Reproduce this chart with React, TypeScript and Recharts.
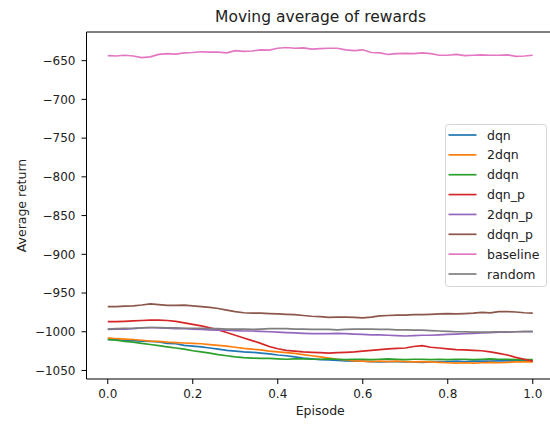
import React from 'react';
import { LineChart, Line, XAxis, YAxis, Legend, ReferenceLine } from 'recharts';

// Episode progress (fraction of training)
const episodes = [
  0, 0.02, 0.04, 0.06, 0.08, 0.1, 0.12, 0.14, 0.16, 0.18,
  0.2, 0.22, 0.24, 0.26, 0.28, 0.3, 0.32, 0.34, 0.36, 0.38,
  0.4, 0.42, 0.44, 0.46, 0.48, 0.5, 0.52, 0.54, 0.56, 0.58,
  0.6, 0.62, 0.64, 0.66, 0.68, 0.7, 0.72, 0.74, 0.76, 0.78,
  0.8, 0.82, 0.84, 0.86, 0.88, 0.9, 0.92, 0.94, 0.96, 0.98, 1.0,
];

const dqn = [
  -1010, -1010.5, -1011, -1011.5, -1012, -1012.5, -1013, -1015, -1015.5, -1017.5,
  -1018.5, -1019.5, -1021, -1022.5, -1024, -1025, -1026, -1026.5, -1027.5, -1028.5,
  -1030, -1031, -1032.5, -1034, -1035, -1036, -1036.5, -1037, -1037.5, -1038,
  -1038, -1038.5, -1039, -1038.5, -1038.5, -1039, -1039, -1039.5, -1039, -1038.5,
  -1038.5, -1038, -1038.5, -1038, -1038, -1038, -1037.5, -1037.5, -1037.5, -1037, -1037,
];

const dqn2 = [
  -1008, -1009, -1009.5, -1010, -1011, -1012, -1012.5, -1013.5, -1014, -1014.5,
  -1015, -1015.5, -1016.5, -1017.5, -1018.5, -1020, -1021.5, -1022.5, -1023.5, -1025,
  -1026, -1027, -1028, -1029.5, -1031, -1032.5, -1034, -1035.5, -1036.5, -1037.5,
  -1038, -1038.5, -1038, -1038.5, -1038, -1038.5, -1039, -1038.5, -1039, -1039.5,
  -1040, -1040.5, -1040, -1040.5, -1040, -1039.5, -1040, -1039.5, -1039, -1039, -1039,
];

const ddqn = [
  -1010, -1011, -1012.5, -1013.5, -1015, -1016.5, -1018, -1019.5, -1021, -1022.5,
  -1024.5, -1026, -1027.5, -1029.5, -1031, -1032.5, -1033.5, -1034, -1034.5, -1034.5,
  -1035, -1035.5, -1035, -1035, -1035.5, -1035.5, -1035, -1035.5, -1036, -1035.5,
  -1035.5, -1036, -1035.5, -1035, -1035.5, -1036, -1035.5, -1035.5, -1036, -1035.5,
  -1036, -1035.5, -1035.5, -1036, -1035.5, -1035, -1035.5, -1035.5, -1036, -1036, -1036,
];

const dqnP = [
  -987, -987, -986.5, -986, -985.5, -985, -985, -985.5, -986.5, -988.5,
  -990.5, -992.5, -995, -997.5, -1001, -1004.5, -1008, -1011.5, -1015, -1019,
  -1022, -1024, -1025, -1026, -1026.5, -1027, -1027.5, -1027, -1026.5, -1026,
  -1025, -1024, -1023, -1022, -1021.5, -1021, -1019, -1018, -1020, -1021,
  -1022, -1023, -1023.5, -1024, -1024.5, -1026, -1028, -1030, -1033, -1035.5, -1038,
];

const dqn2P = [
  -997, -996.5, -996.5, -996, -995, -994.5, -995, -995.5, -996, -996,
  -996.5, -997, -997.5, -998, -998, -998.5, -999, -999, -999.5, -1000,
  -1000.5, -1001, -1001.5, -1002, -1002.5, -1002.5, -1002.5, -1002, -1002.5, -1003,
  -1003.5, -1004, -1004, -1004.5, -1005, -1005.5, -1005, -1004.5, -1004.5, -1004,
  -1003.5, -1003, -1002.5, -1002, -1001.5, -1001, -1000.5, -1000.5, -1000, -1000, -1000,
];

const ddqnP = [
  -967.5, -967.5, -967, -966.5, -965.5, -964, -965, -966, -966, -965.5,
  -966.5, -967.5, -968.5, -970, -972, -974, -975.5, -976, -976, -976.5,
  -977, -977.5, -978, -979, -980, -980.5, -981.5, -981, -981, -981.5,
  -982, -981, -979.5, -979, -978.5, -978.5, -978, -978, -977.5, -977,
  -976.5, -977, -976.5, -976, -975, -975.5, -974, -974, -974.5, -975.5, -976,
];

const baseline = [
  -643.5, -644, -643, -644, -646, -645, -642, -641, -641.5, -640,
  -639.5, -638.5, -639, -639, -640, -637, -638, -637.5, -636, -636.5,
  -634, -633, -634, -633.5, -635, -634.5, -634, -634, -636, -637,
  -636, -639.5, -640, -642, -641, -640.5, -641, -640, -641, -643,
  -643, -642, -643.5, -643, -642.5, -643, -643, -642.5, -644.5, -644, -643,
];

const random = [
  -996.5, -996, -995.5, -995.5, -995, -994.5, -994.5, -995, -995, -995.5,
  -995.5, -995.5, -996, -996, -996.5, -996.5, -996.5, -997, -996.5, -996,
  -996, -996, -996.5, -996.5, -997, -997, -997, -997.5, -997, -996.5,
  -996.5, -996.5, -997, -997, -997.5, -997.5, -998, -998, -998.5, -999,
  -999.5, -1000, -1000, -1000.5, -1000.5, -1000.5, -1000, -1000, -1000, -999.5, -999.5,
];

const seriesNames = ['dqn', '2dqn', 'ddqn', 'dqn_p', '2dqn_p', 'ddqn_p', 'baseline', 'random'];
const seriesColors = ['#1f77b4', '#ff7f0e', '#2ca02c', '#d62728', '#9467bd', '#8c564b', '#e377c2', '#7f7f7f'];
const seriesValues = [dqn, dqn2, ddqn, dqnP, dqn2P, ddqnP, baseline, random];

const xTicks = [0, 0.2, 0.4, 0.6, 0.8, 1.0];
const yTicks = [-1050, -1000, -950, -900, -850, -800, -750, -700, -650];
const yDomain: [number, number] = [-1061, -613];

const rows = episodes.map((x, i) => {
  const row: Record<string, number> = { x };
  seriesNames.forEach((name, j) => {
    row[name] = seriesValues[j][i];
  });
  return row;
});

const FONT = '"DejaVu Sans", sans-serif';
const fmtY = (v: number) => String(v).replace('-', '\u2212');

const LegendBox = (props: any) => {
  const payload = [...(props.payload || [])].sort(
    (a: any, b: any) => seriesNames.indexOf(a.value) - seriesNames.indexOf(b.value)
  );
  const rowH = 19.86;
  return (
    <svg width={103} height={164} style={{ display: 'block', overflow: 'visible' }}>
      <rect x={0.5} y={0.5} width={101} height={162} rx={3} ry={3} fill="#ffffff" fillOpacity={0.8} stroke="#d6d6d6" strokeWidth={1} />
      {payload.map((p: any, i: number) => {
        const cy = 11 + rowH * i;
        return (
          <g key={p.value}>
            <line x1={3.5} x2={31.5} y1={cy} y2={cy} stroke={p.color} strokeWidth={1.7} />
            <text x={42} y={cy + 4.5} fontFamily={FONT} fontSize={12.5} fill="#222">{p.value}</text>
          </g>
        );
      })}
    </svg>
  );
};

export default function App() {
  return (
    <div style={{ position: 'absolute', left: 0, top: 0, width: 550, height: 424, overflow: 'hidden', background: '#fff' }}>
      <LineChart width={580} height={424} data={rows} margin={{ top: 32, right: 26, bottom: 0, left: 0 }}>
        <XAxis
          dataKey="x"
          type="number"
          domain={[-0.05, 1.05]}
          ticks={xTicks}
          tickFormatter={(v: number) => v.toFixed(1)}
          height={45}
          stroke="#000"
          tickSize={5}
          tickMargin={5}
          tick={{ fill: '#222', fontFamily: FONT, fontSize: 12 }}
          label={{ value: 'Episode', position: 'insideBottom', offset: 9, fill: '#222', fontFamily: FONT, fontSize: 12.5 }}
        />
        <YAxis
          type="number"
          domain={yDomain}
          ticks={yTicks}
          tickFormatter={fmtY}
          width={86.5}
          stroke="#000"
          tickSize={5}
          tickMargin={6}
          tick={{ fill: '#222', fontFamily: FONT, fontSize: 12 }}
        />
        {/* top frame edge */}
        <ReferenceLine y={yDomain[1]} stroke="#000" strokeWidth={1} />
        <Legend
          layout="vertical"
          align="center"
          verticalAlign="middle"
          itemSorter={null as any}
          content={LegendBox}
          wrapperStyle={{ position: 'absolute', left: 445, top: 124, width: 103, height: 164 }}
        />
        {seriesNames.map((name, j) => (
          <Line
            key={name}
            dataKey={name}
            name={name}
            type="linear"
            stroke={seriesColors[j]}
            strokeWidth={1.7}
            dot={false}
            activeDot={false}
            isAnimationActive={false}
          />
        ))}
      </LineChart>
      <svg width={550} height={424} style={{ position: 'absolute', left: 0, top: 0, pointerEvents: 'none' }}>
        <text x={320.5} y={22} textAnchor="middle" fontFamily={FONT} fontSize={15.5} fill="#222">Moving average of rewards</text>
        <text x={26} y={205.5} textAnchor="middle" transform="rotate(-90 26 205.5)" fontFamily={FONT} fontSize={12.5} fill="#222">Average return</text>
      </svg>
    </div>
  );
}
